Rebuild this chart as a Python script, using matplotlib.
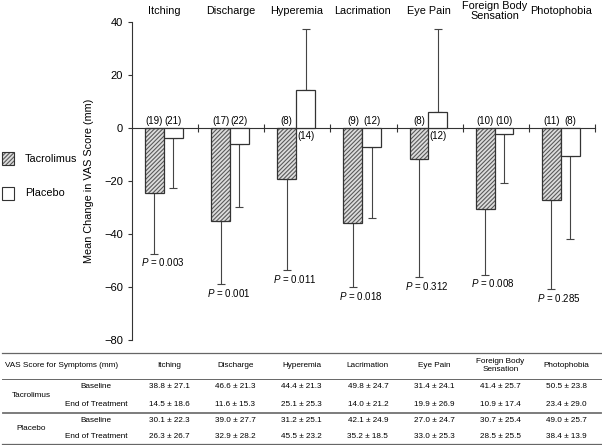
import matplotlib
matplotlib.use("Agg")
import matplotlib.pyplot as plt
from matplotlib.lines import Line2D
import numpy as np

plt.rcParams['font.family'] = ['Liberation Sans', 'DejaVu Sans']
plt.rcParams['mathtext.fontset'] = 'custom'
plt.rcParams['mathtext.it'] = 'Liberation Sans:italic'
plt.rcParams['mathtext.rm'] = 'Liberation Sans'
plt.rcParams['hatch.linewidth'] = 0.8

# ---------------- data ----------------
categories = ["Itching", "Discharge", "Hyperemia", "Lacrimation", "Eye Pain",
              "Foreign Body\nSensation", "Photophobia"]
tac_change = [-24.5, -35.0, -19.4, -36.0, -11.7, -30.6, -27.3]
tac_sd = [22.9, 24.0, 34.3, 24.1, 44.6, 24.7, 33.6]
pla_change = [-3.9, -6.2, 14.2, -7.0, 6.0, -2.4, -10.7]
pla_sd = [18.7, 23.6, 23.0, 27.0, 31.5, 18.3, 31.2]
tac_n = [19, 17, 8, 9, 8, 10, 11]
pla_n = [21, 22, 14, 12, 12, 10, 8]
p_values = ["0.003", "0.001", "0.011", "0.018", "0.312", "0.008", "0.285"]
yticks = [40, 20, 0, -20, -40, -60, -80]

table_header = "VAS Score for Symptoms (mm)"
groups = ["Tacrolimus", "Placebo"]
timepoints = ["Baseline", "End of Treatment"]
tac_base_mean = [38.8, 46.6, 44.4, 49.8, 31.4, 41.4, 50.5]
tac_base_sd = [27.1, 21.3, 21.3, 24.7, 24.1, 25.7, 23.8]
tac_end_mean = [14.5, 11.6, 25.1, 14.0, 19.9, 10.9, 23.4]
tac_end_sd = [18.6, 15.3, 25.3, 21.2, 26.9, 17.4, 29.0]
pla_base_mean = [30.1, 39.0, 31.2, 42.1, 27.0, 30.7, 49.0]
pla_base_sd = [22.3, 27.7, 25.1, 24.9, 24.7, 25.4, 25.7]
pla_end_mean = [26.3, 32.9, 45.5, 35.2, 33.0, 28.5, 38.4]
pla_end_sd = [26.7, 28.2, 23.2, 18.5, 25.3, 25.5, 13.9]

# ---------------- figure ----------------
W, H = 602, 445
fig = plt.figure(figsize=(W / 100, H / 100), dpi=100)
ax = fig.add_axes([132 / W, 1 - 340 / H, 463 / W, 318 / H])

n = len(categories)
idx = np.arange(n)
bw = 0.285
x_tac = idx + 0.197 + bw / 2
x_pla = idx + 0.197 + bw * 1.5

HATCH = '////////'
HATCH_COL = '#5a5a5a'

# hatched tacrolimus bars
ax.bar(x_tac, tac_change, width=bw, color='#dddddd', edgecolor=HATCH_COL,
       hatch=HATCH, linewidth=0, zorder=2)
ax.bar(x_tac, tac_change, width=bw, fill=False, edgecolor='#333333',
       linewidth=0.9, zorder=3)
# placebo bars
ax.bar(x_pla, pla_change, width=bw, color='white', edgecolor='#333333',
       linewidth=0.9, zorder=3)

def one_sided(vals, sds):
    lo = [s if v < 0 else 0 for v, s in zip(vals, sds)]
    hi = [s if v >= 0 else 0 for v, s in zip(vals, sds)]
    return [lo, hi]

ax.errorbar(x_tac, tac_change, yerr=one_sided(tac_change, tac_sd), fmt='none',
            ecolor='#444444', elinewidth=0.8, capsize=3, capthick=0.8, zorder=1)
ax.errorbar(x_pla, pla_change, yerr=one_sided(pla_change, pla_sd), fmt='none',
            ecolor='#444444', elinewidth=0.8, capsize=3, capthick=0.8, zorder=1)

fs_small = 7
# n labels
for xs, vals, ns in [(x_tac, tac_change, tac_n), (x_pla, pla_change, pla_n)]:
    for x, v, nn in zip(xs, vals, ns):
        if v < 0:
            ax.text(x, 0.8, f"({nn})", ha='center', va='bottom', fontsize=fs_small)
        else:
            ax.text(x, -1.2, f"({nn})", ha='center', va='top', fontsize=fs_small)

# P values
for i, (v, s, p) in enumerate(zip(tac_change, tac_sd, p_values)):
    ax.text(i + 0.46, v - s - 3.3, r"$\mathit{P}$ = " + p, ha='center',
            va='center', fontsize=fs_small)

# category labels
for i, c in enumerate(categories):
    ax.text(i + 0.49, 44.2, c, ha='center', va='center', fontsize=7.8,
            linespacing=1.0)

ax.set_xlim(0, n)
ax.set_ylim(-80, 40)
ax.spines['top'].set_visible(False)
ax.spines['right'].set_visible(False)
ax.spines['bottom'].set_position(('data', 0))
ax.spines['left'].set_color('#333333')
ax.spines['bottom'].set_color('#333333')
ax.set_xticks(np.arange(1, n + 1))
ax.set_xticklabels([])
ax.tick_params(axis='x', direction='inout', length=6, width=0.8, color='#333333')
ax.set_yticks(yticks)
ax.set_yticklabels([str(t).replace('-', '\u2212') for t in yticks], fontsize=8)
ax.tick_params(axis='y', direction='out', length=3, width=0.8, color='#333333')
ax.set_ylabel("Mean Change in VAS Score (mm)", fontsize=7.8, labelpad=7)
ax.patch.set_alpha(0)

# legend (manual)
def fx(px):
    return px / W

def fy(py):
    return 1 - py / H

fig.patches.append(plt.Rectangle((fx(2), fy(165)), 12 / W, 13 / H,
                                 transform=fig.transFigure, facecolor='#dddddd',
                                 edgecolor=HATCH_COL, hatch=HATCH, linewidth=0))
fig.patches.append(plt.Rectangle((fx(2), fy(165)), 12 / W, 13 / H,
                                 transform=fig.transFigure, fill=False,
                                 edgecolor='#333333', linewidth=0.8))
fig.patches.append(plt.Rectangle((fx(2), fy(200)), 12 / W, 13 / H,
                                 transform=fig.transFigure, facecolor='white',
                                 edgecolor='#333333', linewidth=0.8))
fig.text(fx(25), fy(158.5), groups[0], ha='left', va='center', fontsize=7.8)
fig.text(fx(25), fy(193.5), groups[1], ha='left', va='center', fontsize=7.8)

# ---------------- table ----------------
tfs = 5.9
line_col = '#666666'
def hline(py, lw=0.9):
    fig.lines.append(Line2D([fx(2), fx(601)], [fy(py), fy(py)],
                            transform=fig.transFigure, color=line_col, lw=lw))

hline(352.7)
hline(379.3, 0.7)
hline(411.5, 0.6)
hline(413.0, 0.6)
hline(444, 0.9)

col_x = [169 + 66.3 * i for i in range(n)]
fig.text(fx(62), fy(365.5), table_header, ha='center', va='center', fontsize=tfs)
for cx, c in zip(col_x, categories):
    fig.text(fx(cx), fy(365.5), c, ha='center', va='center', fontsize=tfs,
             linespacing=1.15)

rows = [
    (387, tac_base_mean, tac_base_sd),
    (404, tac_end_mean, tac_end_sd),
    (420.5, pla_base_mean, pla_base_sd),
    (437, pla_end_mean, pla_end_sd),
]
for k, (py, means, sds) in enumerate(rows):
    fig.text(fx(96), fy(py), timepoints[k % 2], ha='center', va='center', fontsize=tfs)
    for cx, m, s in zip(col_x, means, sds):
        fig.text(fx(cx), fy(py), f"{m:.1f} \u00b1 {s:.1f}", ha='center',
                 va='center', fontsize=tfs)
fig.text(fx(31), fy(395.5), groups[0], ha='center', va='center', fontsize=tfs)
fig.text(fx(31), fy(428.5), groups[1], ha='center', va='center', fontsize=tfs)

fig.savefig("out.png", dpi=100)
